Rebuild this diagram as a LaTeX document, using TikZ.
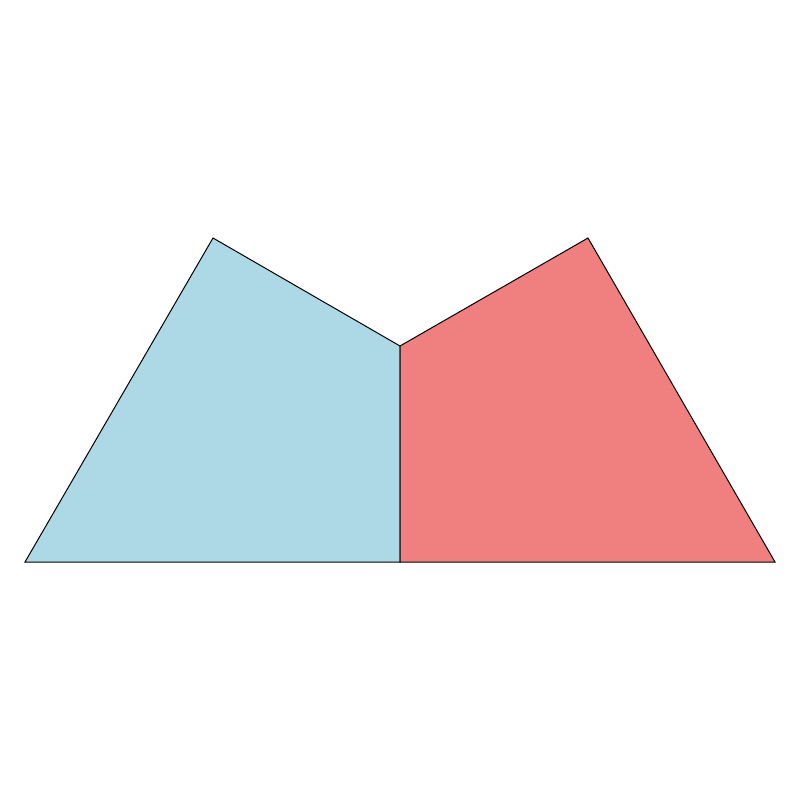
\documentclass[tikz,border=0pt]{standalone}
\definecolor{lblue}{RGB}{173,216,230}
\definecolor{lcoral}{RGB}{240,128,128}
\begin{document}
\begin{tikzpicture}[x=1pt,y=-1pt,face/.style={draw=black,line width=1pt,line join=miter}]
\useasboundingbox (0,0) rectangle (800,800);
\coordinate (bl) at (25,562);
\coordinate (tl) at (213,238);
\coordinate (mid) at (400,346);
\coordinate (bm) at (400,562);
\coordinate (tr) at (588,238);
\coordinate (br) at (775,562);
\filldraw[face,fill=lblue] (bl) -- (tl) -- (mid) -- (bm) -- cycle;
\filldraw[face,fill=lcoral] (bm) -- (mid) -- (tr) -- (br) -- cycle;
\end{tikzpicture}
\end{document}
